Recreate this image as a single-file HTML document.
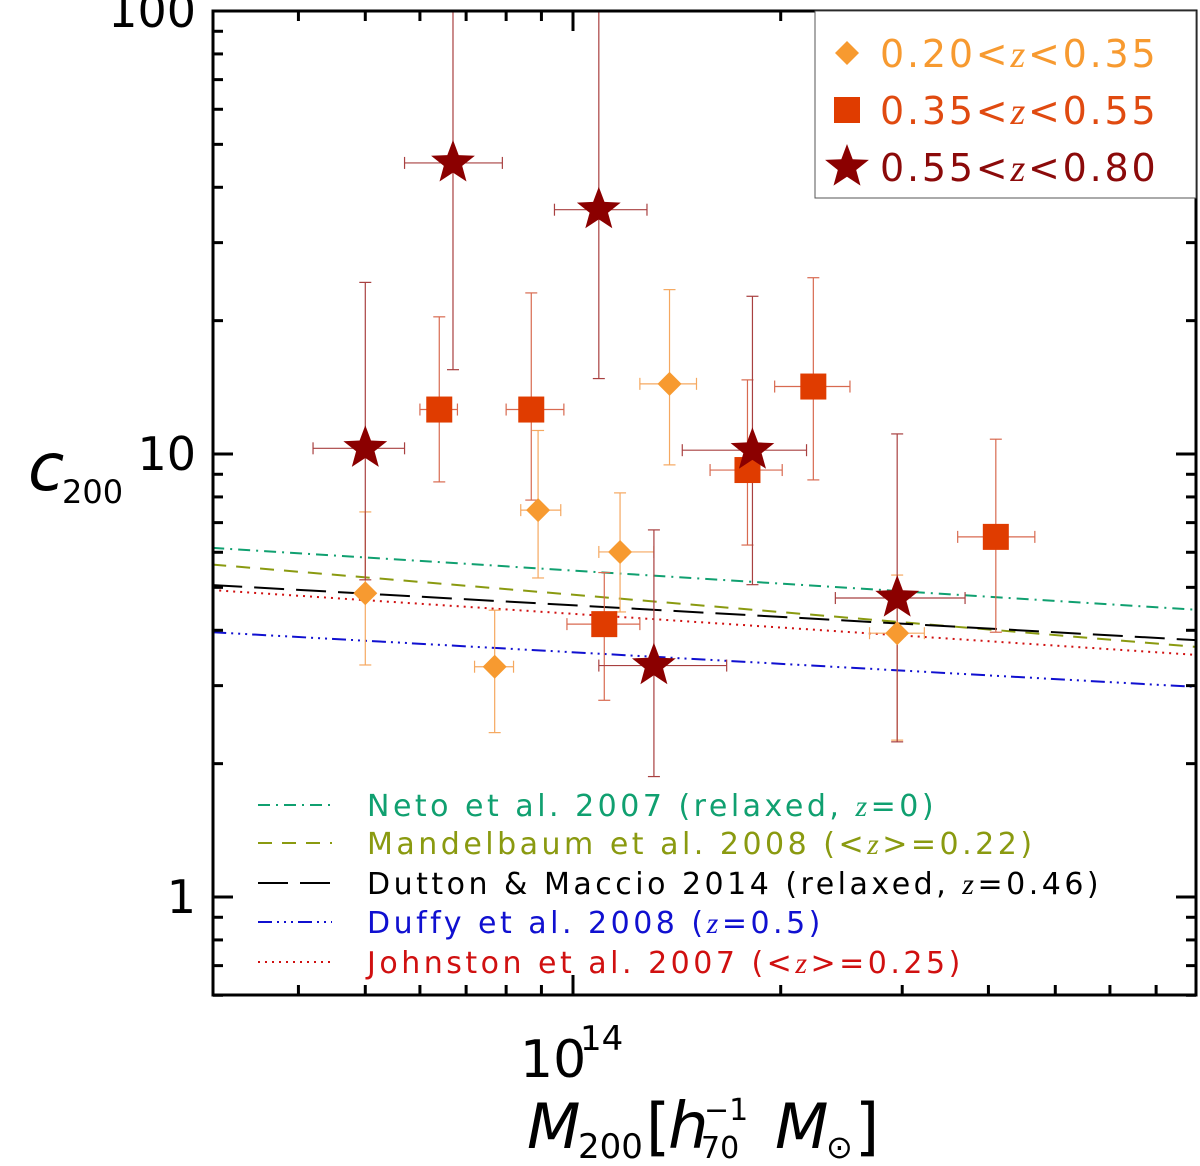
<!DOCTYPE html>
<html><head><meta charset="utf-8"><style>
html,body{margin:0;padding:0;background:#fff;}
svg{display:block;}
text{font-family:"DejaVu Sans","Liberation Sans",sans-serif;}
</style></head><body>
<svg id="chart" width="1200" height="1166" viewBox="0 0 1200 1166" xmlns="http://www.w3.org/2000/svg">
<g id="lines"></g>
<g id="points"></g>
<g id="axes"></g>
<g id="legend1">
<rect x="815" y="11" width="381" height="187" fill="#fff" stroke="#555" stroke-width="1"/>
</g>
<g id="legend2"></g>
<g>
<text x="28" y="490" font-family="Liberation Serif,serif" font-style="italic" font-size="66">c</text>
<text x="62" y="503" font-size="32">200</text>
</g>
<g>
<text x="527" y="1148" font-family="Liberation Serif,serif" font-style="italic" font-size="62">M</text>
<text x="578" y="1158" font-size="34">200</text>
<text x="646" y="1148" font-family="Liberation Serif,serif" font-size="62">[</text>
<text x="668" y="1148" font-family="Liberation Serif,serif" font-style="italic" font-size="64">h</text>
<text x="704" y="1120" font-size="30">−1</text>
<text x="701" y="1158" font-size="30">70</text>
<text x="775" y="1148" font-family="Liberation Serif,serif" font-style="italic" font-size="62">M</text>
<text x="826" y="1158" font-size="32">⊙</text>
<text x="855" y="1148" font-family="Liberation Serif,serif" font-size="62">]</text>
</g>
</svg>
<script>
// ---- data ----
const massUnit = "1e14 Msun/h70";
const diaM   = [0.50,0.77,0.89,1.17,1.38,2.95];
const diaMlo = [0.50,0.72,0.84,1.09,1.25,2.69];
const diaMhi = [0.50,0.82,0.96,1.31,1.51,3.23];
const diaC   = [4.85,3.31,7.47,6.01,14.4,3.94];
const diaClo = [3.34,2.35,5.25,4.40,9.45,2.26];
const diaChi = [7.40,4.44,11.3,8.17,23.5,5.33];

const sqM   = [0.64,0.87,1.11,1.79,2.23,4.10];
const sqMlo = [0.60,0.80,0.98,1.58,1.96,3.61];
const sqMhi = [0.68,0.97,1.25,2.01,2.52,4.67];
const sqC   = [12.6,12.6,4.13,9.2,14.2,6.5];
const sqClo = [8.65,7.87,2.78,6.23,8.74,3.96];
const sqChi = [20.4,23.1,5.40,14.7,25.0,10.8];

const stM   = [0.50,0.67,1.09,1.31,1.82,2.95];
const stMlo = [0.42,0.57,0.94,1.09,1.44,2.40];
const stMhi = [0.57,0.79,1.28,1.67,2.18,3.70];
const stC   = [10.3,45.4,35.6,3.33,10.2,4.73];
const stClo = [5.2,15.5,14.8,1.87,5.07,2.24];
const stChi = [24.4,120,120,6.74,22.7,11.1];

const lineNames = ["Neto et al. 2007 (relaxed, z=0)","Mandelbaum et al. 2008 (<z>=0.22)","Dutton & Maccio 2014 (relaxed, z=0.46)","Duffy et al. 2008 (z=0.5)","Johnston et al. 2007 (<z>=0.25)"];
const lineMass = [0.30,8.0];
const lineCLow  = [6.14,5.63,5.06,3.96,4.93];
const lineCHigh = [4.45,3.67,3.80,2.98,3.52];

const yTickVals = [1,10,100];
const yTickLabels = ["1","10","100"];

// ---- scales ----
const X0=573, XD=690, YB=897, YD=443;
const L=213,R=1196,T=11,B=995;
function xs(m){return X0+XD*Math.log10(m);}
function ys(c){return YB-YD*Math.log10(c);}
const NS="http://www.w3.org/2000/svg";
function mk(tag,attrs,parent){const e=document.createElementNS(NS,tag);for(const k in attrs)e.setAttribute(k,attrs[k]);parent.appendChild(e);return e;}
const svg=document.getElementById('chart');
const gl=document.getElementById('lines'), gp=document.getElementById('points'), ga=document.getElementById('axes');

const defs=mk('defs',{},svg);
const cp=mk('clipPath',{id:'pc'},defs);
mk('rect',{x:L,y:T,width:R-L,height:B-T},cp);
gl.setAttribute('clip-path','url(#pc)');
gp.setAttribute('clip-path','url(#pc)');

const lineColors=["#10a070","#8a9a10","#000","#1010d0","#d01010"];
const lineDash=["12,6,2,6","14,10","30,12","14,5,2,5,2,5,2,5","2,5"];
const lineKeys=["neto","mandelbaum","dutton","duffy","johnston"];
for(let i=0;i<lineCLow.length;i++){
  const l=mk('line',{x1:xs(lineMass[0]),y1:ys(lineCLow[i]),x2:xs(lineMass[1]),y2:ys(lineCHigh[i]),stroke:lineColors[i],'stroke-width':2,'stroke-dasharray':lineDash[i]},gl);
  
  
}

function errbars(M,Mlo,Mhi,C,Clo,Chi,col,g){
  for(let i=0;i<M.length;i++){
    const x=xs(M[i]),y=ys(C[i]);
    const eg=mk('g',{stroke:col,'stroke-width':1.2},g);
    
    
    if(Mhi[i]>Mlo[i]){
      mk('line',{x1:xs(Mlo[i]),y1:y,x2:xs(Mhi[i]),y2:y},eg);
      mk('line',{x1:xs(Mlo[i]),y1:y-6,x2:xs(Mlo[i]),y2:y+6},eg);
      mk('line',{x1:xs(Mhi[i]),y1:y-6,x2:xs(Mhi[i]),y2:y+6},eg);
    }
    mk('line',{x1:x,y1:ys(Clo[i]),x2:x,y2:ys(Chi[i])},eg);
    mk('line',{x1:x-6,y1:ys(Clo[i]),x2:x+6,y2:ys(Clo[i])},eg);
    mk('line',{x1:x-6,y1:ys(Chi[i]),x2:x+6,y2:ys(Chi[i])},eg);
  }
}
function starPts(cx,cy,r){let p=[];for(let k=0;k<10;k++){const a=-Math.PI/2+k*Math.PI/5;const rr=k%2?r*0.42:r;p.push((cx+rr*Math.cos(a)).toFixed(1)+','+(cy+rr*Math.sin(a)).toFixed(1));}return p.join(' ');}
function diamond(x,y,g){return mk('polygon',{points:`${x},${y-12} ${x+12},${y} ${x},${y+12} ${x-12},${y}`,fill:'#f79a30'},g);}
function square(x,y,g){return mk('rect',{x:x-13,y:y-13,width:26,height:26,fill:'#e03c00'},g);}
function star(x,y,g){return mk('polygon',{points:starPts(x,y,23),fill:'#8b0000'},g);}

errbars(diaM,diaMlo,diaMhi,diaC,diaClo,diaChi,'#f5a860',gp);
errbars(sqM,sqMlo,sqMhi,sqC,sqClo,sqChi,'#d86a50',gp);
errbars(stM,stMlo,stMhi,stC,stClo,stChi,'#a84040',gp);
for(let i=0;i<diaM.length;i++){const e=diamond(xs(diaM[i]),ys(diaC[i]),gp);
  
  }
for(let i=0;i<sqM.length;i++){const e=square(xs(sqM[i]),ys(sqC[i]),gp);
  
  }
for(let i=0;i<stM.length;i++){const e=star(xs(stM[i]),ys(stC[i]),gp);
  
  }

const fr=mk('rect',{x:L,y:T,width:R-L,height:B-T,fill:'none',stroke:'#000','stroke-width':3},ga);


for(let d=0.1;d<=100;d*=10){
  for(let k=1;k<10;k++){const v=d*k;if(v<0.6||v>100.01)continue;const y=ys(v);
    const len=(k==1)?20:10;
    mk('line',{x1:L,y1:y,x2:L+len,y2:y,stroke:'#000','stroke-width':3},ga);
    mk('line',{x1:R,y1:y,x2:R-len,y2:y,stroke:'#000','stroke-width':3},ga);}
}
for(let i=0;i<yTickVals.length;i++){
  const t=mk('text',{x:196,y:ys(yTickVals[i])+16,'text-anchor':'end','font-size':46},ga);
  t.textContent=yTickLabels[i];
  
  
}
const xTickMass=[0.4,0.5,0.6,0.7,0.8,0.9,1,2,3,4,5,6,7];
for(const m of xTickMass){const x=xs(m);const len=(m==1)?20:10;
  mk('line',{x1:x,y1:B,x2:x,y2:B-len,stroke:'#000','stroke-width':3},ga);
  mk('line',{x1:x,y1:T,x2:x,y2:T+len,stroke:'#000','stroke-width':3},ga);}
const xl=mk('text',{x:520,y:1077,'font-size':52},ga);
xl.textContent='10';


const xs14=mk('text',{x:580,y:1050,'font-size':34},ga);
xs14.textContent='14';

const lg1=document.getElementById('legend1');
const lgLabels=["0.20","0.35","0.55"], lgLabels2=["0.35","0.55","0.80"], lgCols=["#f79a30","#e04a10","#8b0a0a"];
const lgY=[53,110,167];
for(let i=0;i<3;i++){
  const g=mk('g',{},lg1);
  
  
  if(i==0)diamond(847,lgY[i],g);else if(i==1)square(847,lgY[i],g);else star(847,lgY[i],g);
  const t=mk('text',{x:880,y:lgY[i]+14,'font-size':38,'letter-spacing':2.8,fill:lgCols[i]},g);
  t.innerHTML=lgLabels[i]+'&lt;<tspan font-family="Liberation Serif,serif" font-style="italic">z</tspan>&lt;'+lgLabels2[i];
}
const lg2=document.getElementById('legend2');
const lg2Y=[805,843,883,922,962];
const lg2Html=["Neto et al. 2007 (relaxed, <tspan font-family='Liberation Serif,serif' font-style='italic'>z</tspan>=0)",
"Mandelbaum et al. 2008 (&lt;<tspan font-family='Liberation Serif,serif' font-style='italic'>z</tspan>&gt;=0.22)",
"Dutton &amp; Maccio 2014 (relaxed, <tspan font-family='Liberation Serif,serif' font-style='italic'>z</tspan>=0.46)",
"Duffy et al. 2008 (<tspan font-family='Liberation Serif,serif' font-style='italic'>z</tspan>=0.5)",
"Johnston et al. 2007 (&lt;<tspan font-family='Liberation Serif,serif' font-style='italic'>z</tspan>&gt;=0.25)"];
for(let i=0;i<5;i++){
  const g=mk('g',{},lg2);
  
  
  mk('line',{x1:258,y1:lg2Y[i],x2:332,y2:lg2Y[i],stroke:lineColors[i],'stroke-width':2,'stroke-dasharray':lineDash[i]},g);
  const t=mk('text',{x:367,y:lg2Y[i]+11,'font-size':30,'letter-spacing':3.5,fill:lineColors[i]},g);
  t.innerHTML=lg2Html[i];
}
</script>
</body></html>
